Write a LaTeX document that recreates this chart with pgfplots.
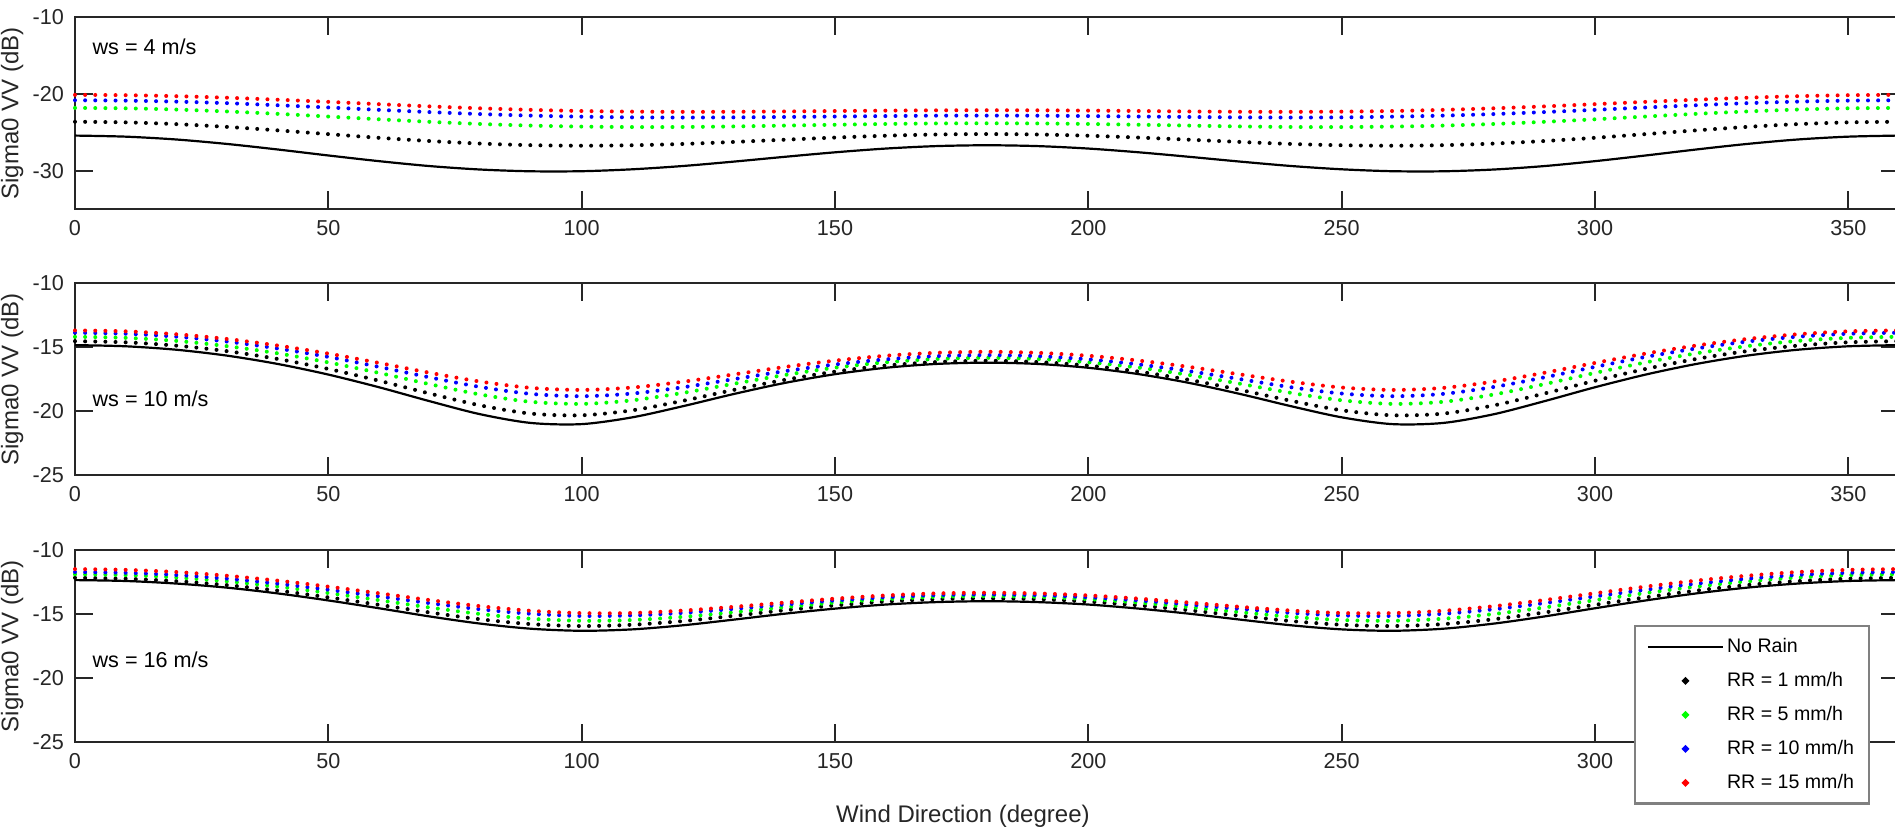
\documentclass[border=0pt]{standalone}
\usepackage{pgfplots}
\usepackage{pgfplotstable}
\usepackage{fontspec}
\setmainfont{Liberation Sans}
\pgfplotsset{compat=1.18}
\definecolor{axc}{RGB}{38,38,38}

% ws = 4 m/s
\pgfplotstableread{
phi nr r1 r5 r10 r15
0 -25.40 -23.60 -21.80 -20.80 -20.10
10 -25.54 -23.68 -21.85 -20.85 -20.14
20 -25.91 -23.91 -22.01 -20.98 -20.27
30 -26.49 -24.27 -22.26 -21.18 -20.47
40 -27.21 -24.72 -22.57 -21.45 -20.73
50 -27.99 -25.21 -22.92 -21.74 -21.01
60 -28.73 -25.69 -23.28 -22.05 -21.31
70 -29.37 -26.11 -23.61 -22.34 -21.60
80 -29.82 -26.44 -23.89 -22.60 -21.85
90 -30.05 -26.65 -24.10 -22.80 -22.05
100 -30.04 -26.72 -24.23 -22.94 -22.20
110 -29.79 -26.66 -24.29 -23.03 -22.28
120 -29.36 -26.49 -24.28 -23.05 -22.31
130 -28.79 -26.23 -24.21 -23.03 -22.30
140 -28.17 -25.94 -24.10 -22.98 -22.26
150 -27.58 -25.66 -23.99 -22.92 -22.20
160 -27.09 -25.42 -23.89 -22.86 -22.15
170 -26.77 -25.26 -23.82 -22.81 -22.11
180 -26.66 -25.20 -23.80 -22.80 -22.10
190 -26.77 -25.26 -23.82 -22.81 -22.11
200 -27.09 -25.42 -23.89 -22.86 -22.15
210 -27.58 -25.66 -23.99 -22.92 -22.20
220 -28.17 -25.94 -24.10 -22.98 -22.26
230 -28.79 -26.23 -24.21 -23.03 -22.30
240 -29.36 -26.49 -24.28 -23.05 -22.31
250 -29.79 -26.66 -24.29 -23.03 -22.28
260 -30.04 -26.72 -24.23 -22.94 -22.20
270 -30.05 -26.65 -24.10 -22.80 -22.05
280 -29.82 -26.44 -23.89 -22.60 -21.85
290 -29.37 -26.11 -23.61 -22.34 -21.60
300 -28.73 -25.69 -23.28 -22.05 -21.31
310 -27.99 -25.21 -22.92 -21.74 -21.01
320 -27.21 -24.72 -22.57 -21.45 -20.73
330 -26.49 -24.27 -22.26 -21.18 -20.47
340 -25.91 -23.91 -22.01 -20.98 -20.27
350 -25.54 -23.68 -21.85 -20.85 -20.14
360 -25.40 -23.60 -21.80 -20.80 -20.10
}\tabA

% ws = 10 m/s
\pgfplotstableread{
phi nr r1 r5 r10 r15
0 -14.83 -14.52 -14.18 -13.86 -13.68
10 -14.92 -14.61 -14.26 -13.94 -13.75
20 -15.19 -14.87 -14.50 -14.17 -13.98
30 -15.65 -15.30 -14.91 -14.55 -14.35
40 -16.30 -15.91 -15.47 -15.09 -14.86
50 -17.13 -16.69 -16.18 -15.75 -15.49
60 -18.12 -17.61 -17.00 -16.53 -16.22
70 -19.21 -18.61 -17.88 -17.35 -16.99
80 -20.23 -19.54 -18.69 -18.10 -17.68
90 -20.91 -20.18 -19.26 -18.64 -18.17
100 -21.00 -20.31 -19.42 -18.82 -18.33
110 -20.47 -19.92 -19.14 -18.61 -18.14
120 -19.60 -19.18 -18.56 -18.12 -17.69
130 -18.65 -18.33 -17.85 -17.49 -17.12
140 -17.79 -17.55 -17.17 -16.87 -16.54
150 -17.10 -16.90 -16.59 -16.34 -16.04
160 -16.60 -16.43 -16.17 -15.94 -15.66
170 -16.30 -16.15 -15.91 -15.69 -15.43
180 -16.20 -16.05 -15.82 -15.61 -15.35
190 -16.30 -16.15 -15.91 -15.69 -15.43
200 -16.60 -16.43 -16.17 -15.94 -15.66
210 -17.10 -16.90 -16.59 -16.34 -16.04
220 -17.79 -17.55 -17.17 -16.87 -16.54
230 -18.65 -18.33 -17.85 -17.49 -17.12
240 -19.60 -19.18 -18.56 -18.12 -17.69
250 -20.47 -19.92 -19.14 -18.61 -18.14
260 -21.00 -20.31 -19.42 -18.82 -18.33
270 -20.91 -20.18 -19.26 -18.64 -18.17
280 -20.23 -19.54 -18.69 -18.10 -17.68
290 -19.21 -18.61 -17.88 -17.35 -16.99
300 -18.12 -17.61 -17.00 -16.53 -16.22
310 -17.13 -16.69 -16.18 -15.75 -15.49
320 -16.30 -15.91 -15.47 -15.09 -14.86
330 -15.65 -15.30 -14.91 -14.55 -14.35
340 -15.19 -14.87 -14.50 -14.17 -13.98
350 -14.92 -14.61 -14.26 -13.94 -13.75
360 -14.83 -14.52 -14.18 -13.86 -13.68
}\tabB

% ws = 16 m/s
\pgfplotstableread{
phi nr r1 r5 r10 r15
0 -12.35 -12.17 -11.90 -11.72 -11.49
10 -12.42 -12.24 -11.96 -11.78 -11.55
20 -12.62 -12.43 -12.15 -11.95 -11.72
30 -12.94 -12.74 -12.45 -12.24 -12.01
40 -13.39 -13.17 -12.86 -12.63 -12.39
50 -13.94 -13.70 -13.36 -13.10 -12.86
60 -14.55 -14.28 -13.92 -13.62 -13.38
70 -15.19 -14.88 -14.49 -14.15 -13.91
80 -15.75 -15.41 -15.00 -14.63 -14.39
90 -16.15 -15.79 -15.37 -14.98 -14.75
100 -16.31 -15.94 -15.53 -15.15 -14.93
110 -16.20 -15.84 -15.47 -15.11 -14.92
120 -15.88 -15.55 -15.22 -14.91 -14.73
130 -15.44 -15.14 -14.86 -14.60 -14.44
140 -14.98 -14.71 -14.47 -14.26 -14.11
150 -14.58 -14.33 -14.11 -13.94 -13.80
160 -14.26 -14.03 -13.84 -13.69 -13.55
170 -14.07 -13.84 -13.66 -13.52 -13.39
180 -14.00 -13.78 -13.60 -13.47 -13.34
190 -14.07 -13.84 -13.66 -13.52 -13.39
200 -14.26 -14.03 -13.84 -13.69 -13.55
210 -14.58 -14.33 -14.11 -13.94 -13.80
220 -14.98 -14.71 -14.47 -14.26 -14.11
230 -15.44 -15.14 -14.86 -14.60 -14.44
240 -15.88 -15.55 -15.22 -14.91 -14.73
250 -16.20 -15.84 -15.47 -15.11 -14.92
260 -16.31 -15.94 -15.53 -15.15 -14.93
270 -16.15 -15.79 -15.37 -14.98 -14.75
280 -15.75 -15.41 -15.00 -14.63 -14.39
290 -15.19 -14.88 -14.49 -14.15 -13.91
300 -14.55 -14.28 -13.92 -13.62 -13.38
310 -13.94 -13.70 -13.36 -13.10 -12.86
320 -13.39 -13.17 -12.86 -12.63 -12.39
330 -12.94 -12.74 -12.45 -12.24 -12.01
340 -12.62 -12.43 -12.15 -11.95 -11.72
350 -12.42 -12.24 -11.96 -11.78 -11.55
360 -12.35 -12.17 -11.90 -11.72 -11.49
}\tabC

\pgfplotsset{
  panel/.style={
    width=912pt, height=96pt, scale only axis,
    xmin=0, xmax=360, xtick={0,50,...,350},
    tick align=inside, major tick length=9pt,
    axis line style={line width=1pt, color=axc},
    every tick/.style={line width=1pt, color=axc},
    tick label style={font=\fontsize{10.8}{13}\selectfont, color=axc},
    xticklabel style={yshift=-2pt},
    yticklabel style={xshift=-2pt},
    /pgf/number format/assume math mode=true,
    scaled ticks=false, clip=false,
    ylabel={Sigma0 VV (dB)},
    ylabel style={at={(axis description cs:-0.0345,0.5)}, anchor=center,
      font=\fontsize{12}{14}\selectfont, color=axc},
  },
  nr/.style={black, line width=1.1pt},
  dots/.style={line width=2pt, line cap=round, dash pattern=on 0pt off 5.0667pt},
  lineimg/.style={legend image code/.code={\draw[##1] (0pt,0pt) -- (37.5pt,0pt);}},
  dotimg/.style={legend image code/.code={\fill[##1, solid] (18.75pt,0pt) circle (0.6pt);}},
}
\newcommand{\wsfont}{\fontsize{10.8}{13}\selectfont}

\begin{document}
\begin{tikzpicture}
\path[use as bounding box] (-37.5pt,8.65pt) rectangle (910pt,-404.35pt);

\begin{axis}[panel, at={(0pt,0pt)}, anchor=north west,
  ymin=-35, ymax=-10, ytick={-30,-20,-10}]
\addplot[nr, smooth] table[x=phi, y=nr] {\tabA};
\addplot[dots, black, smooth] table[x=phi, y=r1] {\tabA};
\addplot[dots, green, smooth] table[x=phi, y=r5] {\tabA};
\addplot[dots, blue, smooth] table[x=phi, y=r10] {\tabA};
\addplot[dots, red, smooth] table[x=phi, y=r15] {\tabA};
\node[anchor=west, inner sep=0pt, font=\wsfont] at (axis cs:3.4,-13.84) {ws = 4 m/s};
\end{axis}

\begin{axis}[panel, at={(0pt,-133pt)}, anchor=north west,
  ymin=-25, ymax=-10, ytick={-25,-20,-15,-10}]
\addplot[nr, smooth] table[x=phi, y=nr] {\tabB};
\addplot[dots, black, smooth] table[x=phi, y=r1] {\tabB};
\addplot[dots, green, smooth] table[x=phi, y=r5] {\tabB};
\addplot[dots, blue, smooth] table[x=phi, y=r10] {\tabB};
\addplot[dots, red, smooth] table[x=phi, y=r15] {\tabB};
\node[anchor=west, inner sep=0pt, font=\wsfont] at (axis cs:3.4,-19.0) {ws = 10 m/s};
\end{axis}

\begin{axis}[panel, at={(0pt,-266.35pt)}, anchor=north west,
  ymin=-25, ymax=-10, ytick={-25,-20,-15,-10},
  xticklabels={0,50,100,150,200,250,300,{}},
  xlabel={Wind Direction (degree)},
  xlabel style={at={(axis description cs:0.4868,0)}, anchor=center, yshift=-37pt,
    font=\fontsize{12}{14}\selectfont, color=axc},
  legend cell align=left,
  legend style={at={(0.8545,0.609)}, anchor=north west,
    draw=black!50, line width=1.2pt, fill=white,
    font=\fontsize{9.8}{11}\selectfont,
    inner xsep=6pt, inner ysep=4.5pt, row sep=5.4pt,
    nodes={inner sep=1.5pt}},
]
\addplot[nr, smooth, lineimg] table[x=phi, y=nr] {\tabC};
\addlegendentry{No Rain}
\addplot[dots, black, smooth, dotimg] table[x=phi, y=r1] {\tabC};
\addlegendentry{RR = 1 mm/h}
\addplot[dots, green, smooth, dotimg] table[x=phi, y=r5] {\tabC};
\addlegendentry{RR = 5 mm/h}
\addplot[dots, blue, smooth, dotimg] table[x=phi, y=r10] {\tabC};
\addlegendentry{RR = 10 mm/h}
\addplot[dots, red, smooth, dotimg] table[x=phi, y=r15] {\tabC};
\addlegendentry{RR = 15 mm/h}
\node[anchor=west, inner sep=0pt, font=\wsfont] at (axis cs:3.4,-18.6) {ws = 16 m/s};
\end{axis}
\end{tikzpicture}
\end{document}
